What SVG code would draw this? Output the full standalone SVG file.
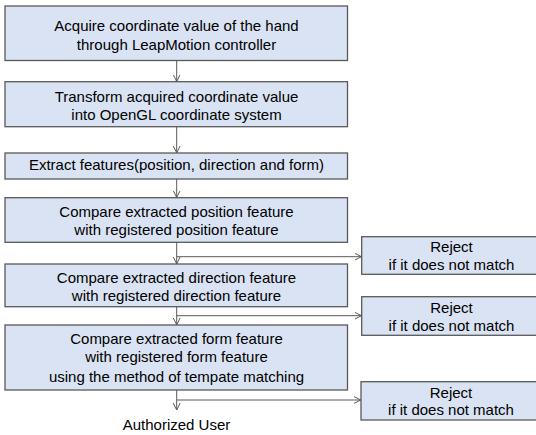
<svg xmlns="http://www.w3.org/2000/svg" width="536" height="435" viewBox="0 0 536 435">
<defs>
<style>
.box{fill:#dae3f3;stroke:#595959;stroke-width:1.3}
text{font-family:"Liberation Sans",Arial,sans-serif;font-size:15px;fill:#000;text-anchor:middle}
.c{stroke:#595959;stroke-width:1;fill:none}
</style>
<marker id="a" markerWidth="8" markerHeight="8" refX="7" refY="4" orient="auto" markerUnits="userSpaceOnUse">
<path d="M0,0.5 L7,4 L0,7.5" fill="none" stroke="#595959" stroke-width="1"/>
</marker>
</defs>
<rect width="536" height="435" fill="#fff"/>
<g id="n1"><rect class="box" x="5" y="6" width="342.5" height="54.5"/><text x="176.5" y="30.5">Acquire coordinate value of the hand</text><text x="176.5" y="49.5">through LeapMotion controller</text></g>
<g id="n2"><rect class="box" x="5" y="81.7" width="342.5" height="45"/><text x="176.5" y="101.5">Transform acquired coordinate value</text><text x="176.5" y="119.5">into OpenGL coordinate system</text></g>
<g id="n3"><rect class="box" x="5" y="153" width="342.5" height="26"/><text x="176.5" y="169.5">Extract features(position, direction and form)</text></g>
<g id="n4"><rect class="box" x="5" y="197.7" width="342.5" height="44.6"/><text x="176.5" y="217.3">Compare extracted position feature</text><text x="176.5" y="235">with registered position feature</text></g>
<g id="n5"><rect class="box" x="5" y="264" width="342.5" height="42.7"/><text x="176.5" y="282.7">Compare extracted direction feature</text><text x="176.5" y="300.7">with registered direction feature</text></g>
<g id="n6"><rect class="box" x="5" y="325" width="342.5" height="65"/><text x="176.5" y="344">Compare extracted form feature</text><text x="176.5" y="362">with registered form feature</text><text x="176.5" y="381.7">using the method of tempate matching</text></g>
<g id="n7"><text x="176.5" y="430">Authorized User</text></g>
<g id="r1"><rect class="box" x="361.7" y="236.7" width="180" height="37.6"/><text x="451.5" y="252.3">Reject</text><text x="451.5" y="270">if it does not match</text></g>
<g id="r2"><rect class="box" x="361.7" y="296.7" width="180" height="38.6"/><text x="451.5" y="313.3">Reject</text><text x="451.5" y="331">if it does not match</text></g>
<g id="r3"><rect class="box" x="361" y="381.7" width="180" height="38.3"/><text x="451" y="397.7">Reject</text><text x="451" y="415">if it does not match</text></g>
<g id="connectors">
<line class="c" x1="176.7" y1="60.5" x2="176.7" y2="81.5" marker-end="url(#a)"/>
<line class="c" x1="176.7" y1="126.7" x2="176.7" y2="152.8" marker-end="url(#a)"/>
<line class="c" x1="176.7" y1="179" x2="176.7" y2="197.5" marker-end="url(#a)"/>
<line class="c" x1="176.7" y1="242.3" x2="176.7" y2="263.8" marker-end="url(#a)"/>
<line class="c" x1="176.7" y1="306.7" x2="176.7" y2="324.8" marker-end="url(#a)"/>
<line class="c" x1="176.7" y1="390" x2="176.7" y2="410" marker-end="url(#a)"/>
<line class="c" x1="176.7" y1="256.7" x2="361.5" y2="256.7" marker-end="url(#a)"/>
<line class="c" x1="176.7" y1="315.7" x2="361.5" y2="315.7" marker-end="url(#a)"/>
<line class="c" x1="176.7" y1="400" x2="360.8" y2="400" marker-end="url(#a)"/>
</g>
</svg>
